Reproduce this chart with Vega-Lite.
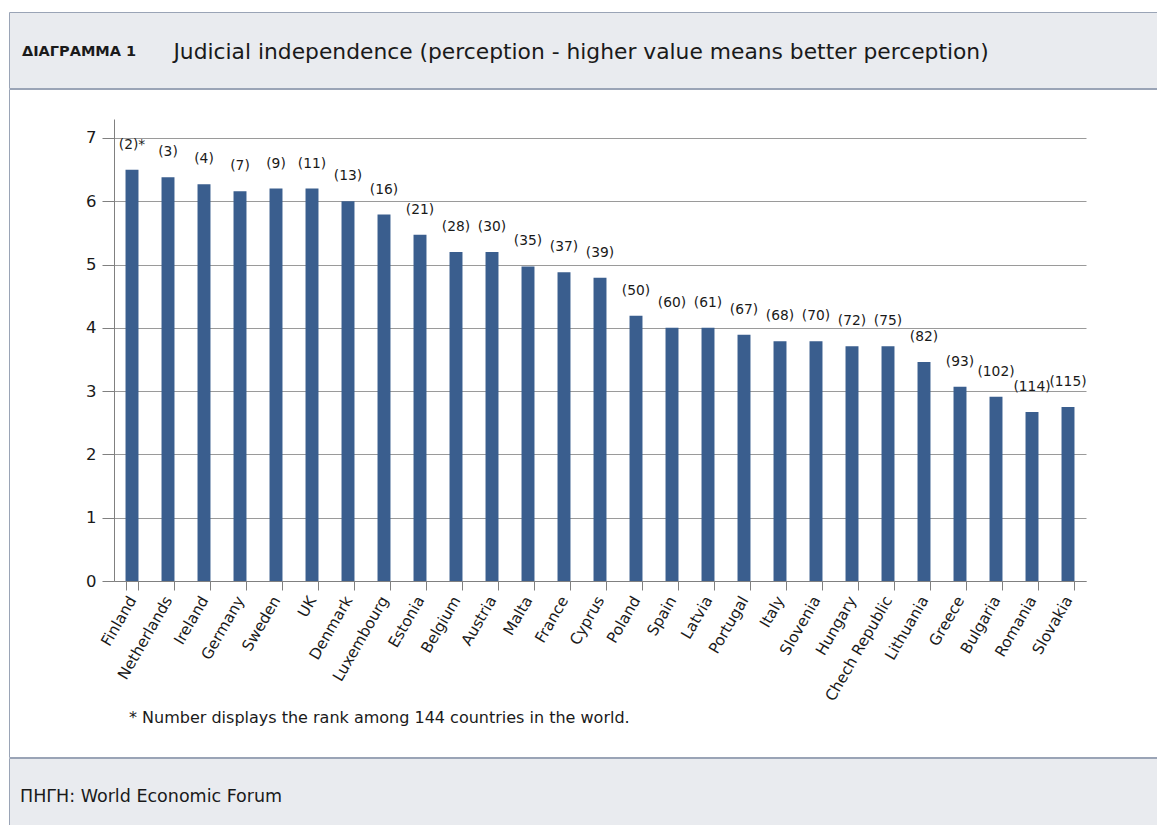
{
  "$schema": "https://vega.github.io/schema/vega-lite/v6.json",
  "background": "white",
  "padding": {"left": 2, "top": 11, "right": 0, "bottom": 0},
  "spacing": -1,
  "title": {
    "text": "Judicial independence (perception - higher value means better perception)",
    "anchor": "start",
    "orient": "top",
    "offset": -62,
    "baseline": "middle",
    "dx": 171,
    "font": "DejaVu Sans",
    "fontSize": 21.8,
    "fontWeight": "normal",
    "color": "#1a1a1a"
  },
  "config": {
    "view": {"stroke": null},
    "font": "DejaVu Sans"
  },
  "vconcat": [
    {
      "width": 1150,
      "height": 76,
      "view": {"fill": "#E9EBEF", "stroke": "#9AA4B6"},
      "data": {"values": []},
      "mark": "text",
      "encoding": {},
      "title": {
        "text": "ΔΙΑΓΡΑΜΜΑ 1",
        "anchor": "start",
        "frame": "group",
        "orient": "top",
        "offset": -54,
        "baseline": "middle",
        "dx": 13,
        "font": "DejaVu Sans",
        "fontSize": 14.5,
        "fontWeight": "bold",
        "color": "#1a1a1a"
      }
    },
    {
      "width": 1150,
      "height": 668,
      "view": {"stroke": "#9AA4B6"},
      "data": {
        "values": [
          {"country": "Finland", "value": 6.5, "rank": "(2)*"},
          {"country": "Netherlands", "value": 6.38, "rank": "(3)"},
          {"country": "Ireland", "value": 6.27, "rank": "(4)"},
          {"country": "Germany", "value": 6.16, "rank": "(7)"},
          {"country": "Sweden", "value": 6.2, "rank": "(9)"},
          {"country": "UK", "value": 6.2, "rank": "(11)"},
          {"country": "Denmark", "value": 6.0, "rank": "(13)"},
          {"country": "Luxembourg", "value": 5.79, "rank": "(16)"},
          {"country": "Estonia", "value": 5.47, "rank": "(21)"},
          {"country": "Belgium", "value": 5.2, "rank": "(28)"},
          {"country": "Austria", "value": 5.2, "rank": "(30)"},
          {"country": "Malta", "value": 4.97, "rank": "(35)"},
          {"country": "France", "value": 4.88, "rank": "(37)"},
          {"country": "Cyprus", "value": 4.79, "rank": "(39)"},
          {"country": "Poland", "value": 4.19, "rank": "(50)"},
          {"country": "Spain", "value": 4.0, "rank": "(60)"},
          {"country": "Latvia", "value": 4.0, "rank": "(61)"},
          {"country": "Portugal", "value": 3.89, "rank": "(67)"},
          {"country": "Italy", "value": 3.79, "rank": "(68)"},
          {"country": "Slovenia", "value": 3.79, "rank": "(70)"},
          {"country": "Hungary", "value": 3.71, "rank": "(72)"},
          {"country": "Chech Republic", "value": 3.71, "rank": "(75)"},
          {"country": "Lithuania", "value": 3.46, "rank": "(82)"},
          {"country": "Greece", "value": 3.07, "rank": "(93)"},
          {"country": "Bulgaria", "value": 2.91, "rank": "(102)"},
          {"country": "Romania", "value": 2.67, "rank": "(114)"},
          {"country": "Slovakia", "value": 2.75, "rank": "(115)"}
        ]
      },
      "encoding": {
        "x": {
          "field": "country",
          "type": "nominal",
          "sort": null,
          "scale": {"range": [105, 1077], "paddingInner": 0.64, "paddingOuter": 0.32},
          "axis": {
            "title": null,
            "offset": -176,
            "labelAngle": -60,
            "labelFontSize": 15.3,
            "labelColor": "#1a1a1a",
            "labelPadding": 7,
            "tickBand": "extent",
            "tickSize": 9,
            "tickColor": "#808080",
            "domainColor": "#808080",
            "grid": false
          }
        },
        "y": {
          "field": "value",
          "type": "quantitative",
          "scale": {"domain": [0, 7.3], "nice": false, "range": [492, 30]},
          "axis": {
            "title": null,
            "offset": -105,
            "values": [0, 1, 2, 3, 4, 5, 6, 7],
            "labelFontSize": 16.5,
            "labelColor": "#1a1a1a",
            "labelPadding": 6,
            "tickSize": 12,
            "tickColor": "#808080",
            "domainColor": "#808080",
            "gridColor": "#9a9a9a"
          }
        }
      },
      "layer": [
        {"mark": {"type": "bar", "color": "#3A5E8E"}},
        {
          "mark": {"type": "text", "baseline": "bottom", "dy": -18, "fontSize": 13.8, "color": "#1a1a1a"},
          "encoding": {"text": {"field": "rank", "type": "nominal"}}
        }
      ],
      "title": {
        "text": "* Number displays the rank among 144 countries in the world.",
        "anchor": "start",
        "frame": "group",
        "orient": "bottom",
        "offset": -47,
        "dx": 120,
        "font": "DejaVu Sans",
        "fontSize": 16,
        "fontWeight": "normal",
        "color": "#1a1a1a"
      }
    },
    {
      "width": 1150,
      "height": 72,
      "view": {"fill": "#E9EBEF", "stroke": "#9AA4B6"},
      "data": {"values": []},
      "mark": "text",
      "encoding": {},
      "title": {
        "text": "ΠΗΓΗ: World Economic Forum",
        "anchor": "start",
        "frame": "group",
        "orient": "top",
        "offset": -56,
        "baseline": "middle",
        "dx": 11,
        "font": "DejaVu Sans",
        "fontSize": 17.5,
        "fontWeight": "normal",
        "color": "#1a1a1a"
      }
    }
  ]
}
